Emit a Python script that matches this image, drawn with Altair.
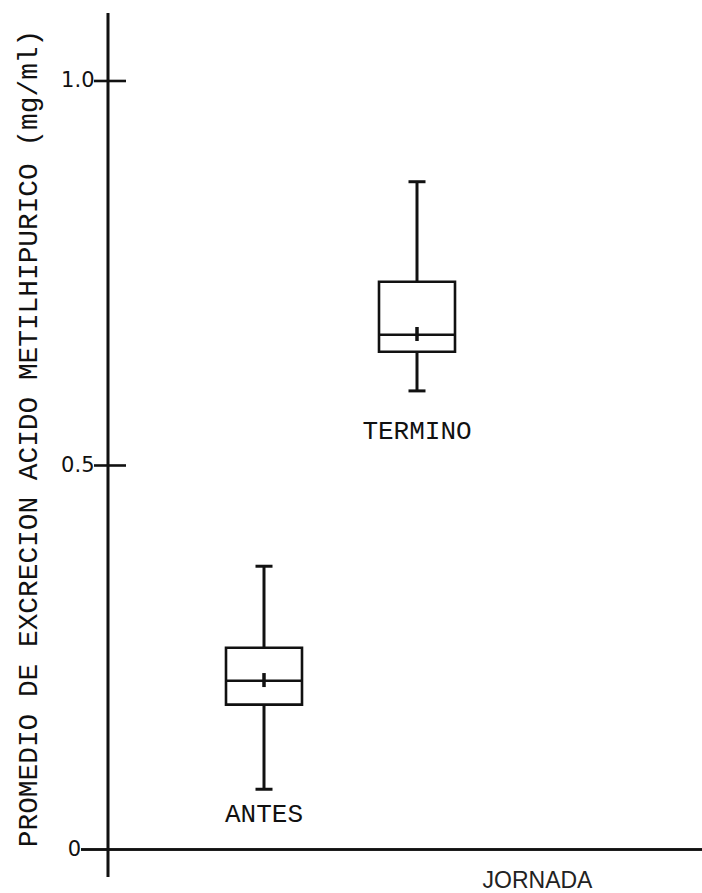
import altair as alt
import pandas as pd

# ---- data ----
jornada = ["ANTES", "TERMINO"]
whisker_low = [0.079, 0.597]
q1 = [0.189, 0.648]
median = [0.220, 0.670]
q3 = [0.263, 0.739]
whisker_high = [0.369, 0.869]
mean = [0.221, 0.671]
label_y = [0.047, 0.545]
tick_values = [0.5, 1.0]
origin_label = ["0"]

df = pd.DataFrame({
    "jornada": jornada, "low": whisker_low, "q1": q1, "median": median,
    "q3": q3, "high": whisker_high, "mean": mean, "label_y": label_y,
})
ticks_df = pd.DataFrame({"v": tick_values})
origin_df = pd.DataFrame({"v": [0.0], "txt": origin_label})

INK = "#111111"
MONO = "Liberation Mono"
Y_TITLE = "PROMEDIO DE EXCRECION ACIDO METILHIPURICO (mg/ml)"
X_TITLE = "JORNADA"

yscale = alt.Scale(domain=[0, 1.0884], nice=False, zero=False)
xscale = alt.Scale(type="point", range=[156, 309], padding=0)

y_axis = alt.Axis(
    values=tick_values, domain=False, ticks=False, grid=False,
    labelExpr="format(datum.value, '.1f')",
    labelFont="DejaVu Sans", labelFontSize=21, labelColor=INK, labelPadding=14,
    titleFont=MONO, titleFontSize=27.8, titleFontWeight="normal", titleColor=INK,
    titleAngle=270, titleX=-80, titleY=425, titleAlign="center", titleBaseline="middle",
)

x_axis = alt.Axis(
    domain=False, ticks=False, labels=False, grid=False,
    titleFont="Liberation Sans", titleFontSize=23, titleFontWeight="normal", titleColor="#222222",
    titleX=429, titleY=30, titleAlign="center", titleBaseline="middle",
)

X = alt.X("jornada:N", scale=xscale, axis=x_axis, title=X_TITLE)

def Yf(field):
    return alt.Y(f"{field}:Q", scale=yscale, axis=y_axis, title=Y_TITLE)

base = alt.Chart(df)

boxes = base.mark_bar(size=76, fill="white", stroke=INK, strokeWidth=2.6).encode(
    x=X, y=Yf("q1"), y2="q3:Q",
)

med = base.mark_tick(size=76, thickness=2.6, color=INK, opacity=1).encode(x=X, y=Yf("median"))

whisk_lo = base.mark_rule(color=INK, strokeWidth=3).encode(x=X, y=Yf("low"), y2="q1:Q")
whisk_hi = base.mark_rule(color=INK, strokeWidth=3).encode(x=X, y=Yf("q3"), y2="high:Q")

cap_lo = base.mark_tick(size=17, thickness=3, color=INK, opacity=1).encode(x=X, y=Yf("low"))
cap_hi = base.mark_tick(size=17, thickness=3, color=INK, opacity=1).encode(x=X, y=Yf("high"))

mean_mark = base.mark_point(shape="M0,-1L0,1", size=196, strokeWidth=3.5, color=INK,
                            filled=False, opacity=1).encode(x=X, y=Yf("mean"))

labels = base.mark_text(font=MONO, fontSize=26, color=INK, baseline="middle", align="center").encode(
    x=X, y=Yf("label_y"), text="jornada:N"
)

# axis lines (hand drawn style)
y_line = alt.Chart(ticks_df).mark_rule(color=INK, strokeWidth=2.6).encode(
    x=alt.value(0), y=alt.value(0), y2=alt.value(864)
)
x_line = alt.Chart(ticks_df).mark_rule(color=INK, strokeWidth=2.6).encode(
    y=alt.value(836.5), x=alt.value(-27), x2=alt.value(594)
)
y_ticks = alt.Chart(ticks_df).mark_rule(color=INK, strokeWidth=2.6).encode(
    y=Yf("v"), x=alt.value(-14), x2=alt.value(18)
)
origin = alt.Chart(origin_df).mark_text(
    font="DejaVu Sans", fontSize=21, color=INK, align="right", baseline="middle"
).encode(y=Yf("v"), x=alt.value(-27), text="txt:N")

chart = alt.layer(
    y_line, x_line, y_ticks, origin, whisk_lo, whisk_hi, boxes, med, cap_lo, cap_hi, mean_mark, labels
).properties(
    width=594, height=837,
    autosize=alt.AutoSizeParams(type="none"),
    padding={"left": 108, "top": 13, "right": 0, "bottom": 43},
    background="white",
).configure_view(stroke=None)

chart.save("out.html", embed_options={"renderer": "svg", "actions": False})
